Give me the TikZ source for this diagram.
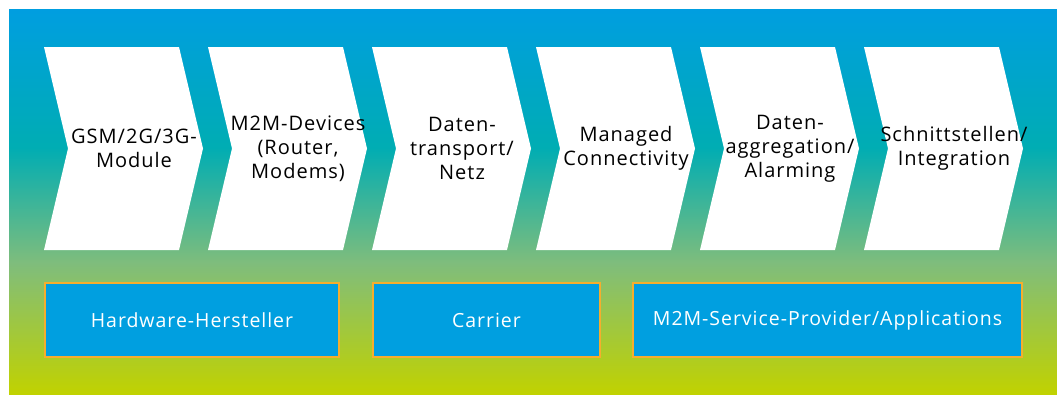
\documentclass[tikz,border=0pt]{standalone}
\usepackage{fontspec}
\setmainfont[LetterSpace=5]{Open Sans}
\usetikzlibrary{positioning}

\definecolor{bgblue}{HTML}{009EE0}
\definecolor{bgteal}{HTML}{00ADB3}
\definecolor{bggreen}{HTML}{7FBD7C}
\definecolor{bgyellow}{HTML}{C1D200}
\definecolor{boxblue}{HTML}{009FE0}
\definecolor{boxedge}{HTML}{F5AE2D}

\pgfdeclareverticalshading{valuechain}{100bp}{color(0bp)=(bgyellow); color(25bp)=(bgyellow);
  color(42bp)=(bggreen); color(57bp)=(bgteal); color(75bp)=(bgblue); color(100bp)=(bgblue)}

\begin{document}
\begin{tikzpicture}[
  x=1pt, y=-1pt,
  stagetxt/.style={align=center, text=black, inner sep=0pt, font=\fontsize{20}{24}\selectfont},
  actor/.style={draw=boxedge, line width=2pt, fill=boxblue, text=white, minimum height=74pt, font=\fontsize{19.5}{24}\selectfont}
]
\useasboundingbox (0,0) rectangle (1057,394);

% ---- Background ----
\shade[shading=valuechain] (9,9) rectangle (1057,394);

% ---- Value chain (chevrons) ----
\foreach \t [count=\i from 0] in {{GSM/2G/3G-\\Module}, {M2M-Devices\\(Router,\\Modems)},
    {Daten-\\transport/\\Netz}, {Managed\\Connectivity}, {Daten-\\aggregation/\\Alarming},
    {Schnittstellen/\\Integration}}
{
  \pgfmathsetmacro\x{44+164*\i}
  \fill[white] (\x,47) -- ++(135,0) -- ++(24,101.5) -- ++(-24,101.5) -- ++(-135,0) -- ++(24,-101.5) -- cycle;
  \node[stagetxt] (s\i) at (\x+90,148.5) {\t};
}

% ---- Market players ----
\node[actor, minimum width=294pt] (hw) at (192,320) {Hardware-Hersteller};
\node[actor, minimum width=227pt] (carrier) at (486.5,320) {Carrier};
\node[actor, minimum width=389pt] (sp) at (827.5,320) {M2M-Service-Provider/Applications};

\end{tikzpicture}
\end{document}
